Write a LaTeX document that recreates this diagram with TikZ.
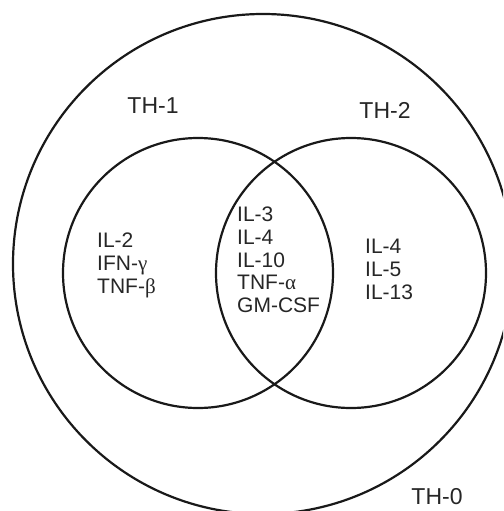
\documentclass[tikz,border=0pt]{standalone}
\usepackage{fontspec}
\setmainfont{Liberation Sans}
\newfontfamily\greekfont{Liberation Serif}
\begin{document}
\begin{tikzpicture}[x=1pt,y=-1pt,
  ring/.style={draw=black!90,line width=2.2pt},
  setlabel/.style={font=\fontsize{23}{27}\selectfont,text=black!85,inner sep=0pt},
  cytokines/.style={font=\fontsize{21}{22.7}\selectfont,text=black!85,align=left,anchor=north west,inner sep=0pt}]
  \useasboundingbox (0,0) rectangle (503,511);
  \begin{scope}
    \clip (0,0) rectangle (503,511);
    \draw[ring] (263,264) circle[radius=250];
  \end{scope}
  \draw[ring] (198,273) circle[radius=135];
  \draw[ring] (351,273) circle[radius=135];
  \node[setlabel] (th1) at (153,106) {TH-1};
  \node[setlabel] (th2) at (385,110) {TH-2};
  \node[setlabel] (th0) at (437,497) {TH-0};
  \node[cytokines] (left) at (97,233) {IL-2\\IFN-{\greekfont γ}\\TNF-{\greekfont β}};
  \node[cytokines] (mid) at (237,207) {IL-3\\IL-4\\IL-10\\TNF-{\greekfont α}\\GM-CSF};
  \node[cytokines] (right) at (365,239) {IL-4\\IL-5\\IL-13};
\end{tikzpicture}
\end{document}
